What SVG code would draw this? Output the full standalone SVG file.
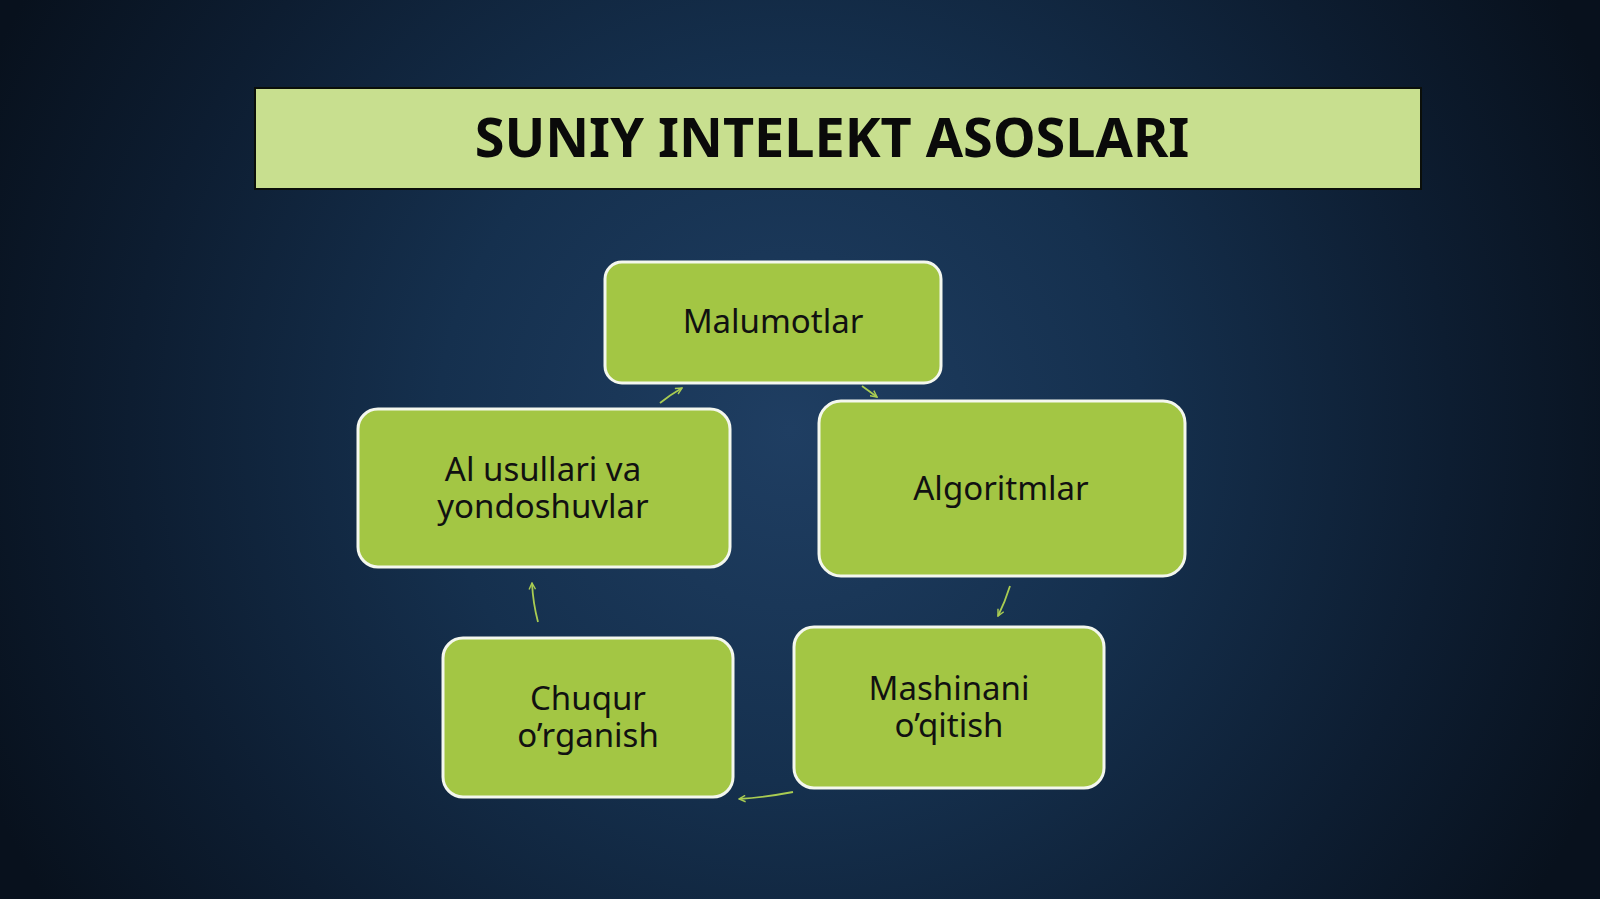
<svg xmlns="http://www.w3.org/2000/svg" width="1600" height="899" viewBox="0 0 1600 899">
<defs>
<radialGradient id="bg" cx="790" cy="430" r="880" gradientUnits="userSpaceOnUse">
<stop offset="0" stop-color="#1f3e62"/>
<stop offset="0.4" stop-color="#15304e"/>
<stop offset="0.75" stop-color="#0d1d31"/>
<stop offset="1" stop-color="#08111d"/>
</radialGradient>
<marker id="ah" viewBox="0 0 10 10" refX="9" refY="5" markerWidth="8" markerHeight="8" orient="auto" markerUnits="userSpaceOnUse">
<path d="M1,1 L9,5 L1,9" fill="none" stroke="#a9cc52" stroke-width="1.8"/>
</marker>
<style>
.node rect{fill:#a3c644;stroke:#f4f7ee;stroke-width:3}
.node text{font-family:"Noto Sans","Open Sans","DejaVu Sans",sans-serif;font-size:33px;fill:#111;text-anchor:middle}
.conn path{fill:none;stroke:#a9cc52;stroke-width:1.8;marker-end:url(#ah)}
</style>
</defs>
<rect x="0" y="0" width="1600" height="899" fill="url(#bg)"/>
<g id="title">
<rect x="255" y="88" width="1166" height="101" fill="#c8df8f" stroke="#0b0f0a" stroke-width="2"/>
<text x="832" y="157" font-family="'Noto Sans','Open Sans','DejaVu Sans',sans-serif" font-size="54" font-weight="bold" fill="#0a0a0a" text-anchor="middle">SUNIY INTELEKT ASOSLARI</text>
</g>
<g id="connectors" class="conn">
<path d="M660,403 Q670,395 682,388"/>
<path d="M862,386 Q869,391 877,397"/>
<path d="M1010,586 Q1005,602 998,616"/>
<path d="M793,792 Q767,797 739,799"/>
<path d="M538,622 Q533,603 532,583"/>
</g>
<g id="n-malumotlar" class="node">
<rect x="605" y="262" width="336" height="121" rx="17"/>
<text x="773" y="333">Malumotlar</text>
</g>
<g id="n-algoritmlar" class="node">
<rect x="819" y="401" width="366" height="175" rx="22"/>
<text x="1001" y="500">Algoritmlar</text>
</g>
<g id="n-mashinani" class="node">
<rect x="794" y="627" width="310" height="161" rx="20"/>
<text x="949" y="700">Mashinani</text>
<text x="949" y="737">o’qitish</text>
</g>
<g id="n-chuqur" class="node">
<rect x="443" y="638" width="290" height="159" rx="20"/>
<text x="588" y="710">Chuqur</text>
<text x="588" y="747">o’rganish</text>
</g>
<g id="n-ai" class="node">
<rect x="358" y="409" width="372" height="158" rx="20"/>
<text x="543" y="481">Al usullari va</text>
<text x="543" y="518">yondoshuvlar</text>
</g>
</svg>
